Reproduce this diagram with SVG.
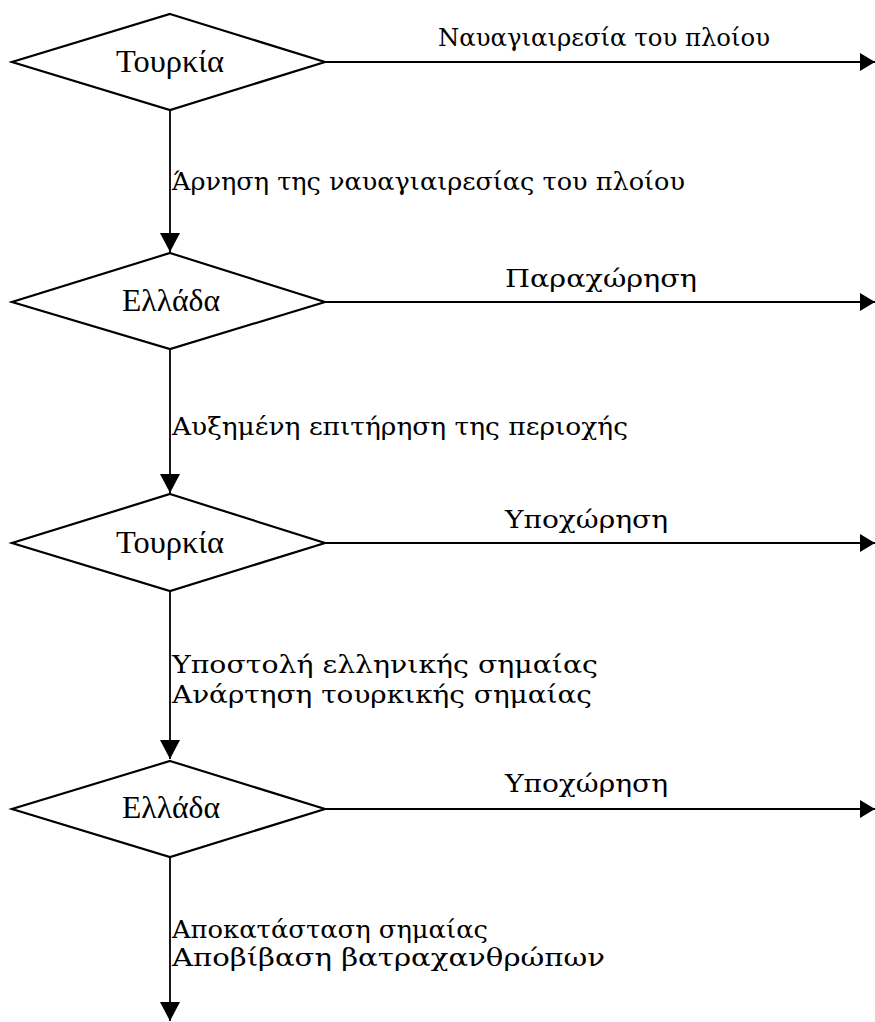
<svg xmlns="http://www.w3.org/2000/svg" width="875" height="1022" viewBox="0 0 875 1022">
<style>
.dia{fill:#fff;stroke:#000;stroke-width:2.2;stroke-linejoin:miter}
.con{fill:none;stroke:#000;stroke-width:1.8}
.t{font-family:"DejaVu Serif","Liberation Serif",serif;fill:#000}
.nl{font-family:"Liberation Serif","DejaVu Serif",serif;font-size:31px;text-anchor:middle}
.el{font-size:25px}
</style>
<defs>
<marker id="av" markerUnits="userSpaceOnUse" markerWidth="20" markerHeight="20" refX="19" refY="10" orient="auto" viewBox="0 0 19 20">
<path d="M0,0 L19,10 L0,20 z" fill="#000"/>
</marker>
<marker id="ah" markerUnits="userSpaceOnUse" markerWidth="15" markerHeight="18" refX="15" refY="9" orient="auto" viewBox="0 0 15 18">
<path d="M0,0 L15,9 L0,18 z" fill="#000"/>
</marker>
</defs>
<g id="connectors">
<line class="con" x1="325" y1="62" x2="875" y2="62" marker-end="url(#ah)"/>
<line class="con" x1="325" y1="302" x2="875" y2="302" marker-end="url(#ah)"/>
<line class="con" x1="325" y1="543" x2="875" y2="543" marker-end="url(#ah)"/>
<line class="con" x1="325" y1="809" x2="875" y2="809" marker-end="url(#ah)"/>
<line class="con" x1="170" y1="110" x2="170" y2="252" marker-end="url(#av)"/>
<line class="con" x1="170" y1="349" x2="170" y2="493" marker-end="url(#av)"/>
<line class="con" x1="170" y1="591" x2="170" y2="759" marker-end="url(#av)"/>
<line class="con" x1="170" y1="857" x2="170" y2="1021" marker-end="url(#av)"/>
<text class="t el" x="438" y="46" textLength="332" lengthAdjust="spacingAndGlyphs">Ναυαγιαιρεσία του πλοίου</text>
<text class="t el" x="172" y="190" textLength="513" lengthAdjust="spacingAndGlyphs">Άρνηση της ναυαγιαιρεσίας του πλοίου</text>
<text class="t el" x="505" y="287" textLength="192" lengthAdjust="spacingAndGlyphs">Παραχώρηση</text>
<text class="t el" x="172" y="435" textLength="456" lengthAdjust="spacingAndGlyphs">Αυξημένη επιτήρηση της περιοχής</text>
<text class="t el" x="505" y="528" textLength="163" lengthAdjust="spacingAndGlyphs">Υποχώρηση</text>
<text class="t el" x="172" y="673" textLength="426" lengthAdjust="spacingAndGlyphs">Υποστολή ελληνικής σημαίας</text>
<text class="t el" x="172" y="703" textLength="420" lengthAdjust="spacingAndGlyphs">Ανάρτηση τουρκικής σημαίας</text>
<text class="t el" x="505" y="792" textLength="163" lengthAdjust="spacingAndGlyphs">Υποχώρηση</text>
<text class="t el" x="172" y="938" textLength="316" lengthAdjust="spacingAndGlyphs">Αποκατάσταση σημαίας</text>
<text class="t el" x="172" y="966" textLength="433" lengthAdjust="spacingAndGlyphs">Αποβίβαση βατραχανθρώπων</text>
</g>
<g id="node1">
<polygon class="dia" points="170,14 325,62 170,110 12,62"/>
<text class="t nl" x="170" y="72" textLength="108" lengthAdjust="spacingAndGlyphs">Τουρκία</text>
</g>
<g id="node2">
<polygon class="dia" points="170,253 325,302 170,349 12,302"/>
<text class="t nl" x="171" y="311" textLength="98" lengthAdjust="spacingAndGlyphs">Ελλάδα</text>
</g>
<g id="node3">
<polygon class="dia" points="170,494 325,543 170,591 12,543"/>
<text class="t nl" x="170" y="553" textLength="108" lengthAdjust="spacingAndGlyphs">Τουρκία</text>
</g>
<g id="node4">
<polygon class="dia" points="170,761 325,809 170,857 12,809"/>
<text class="t nl" x="171" y="818" textLength="98" lengthAdjust="spacingAndGlyphs">Ελλάδα</text>
</g>
</svg>
